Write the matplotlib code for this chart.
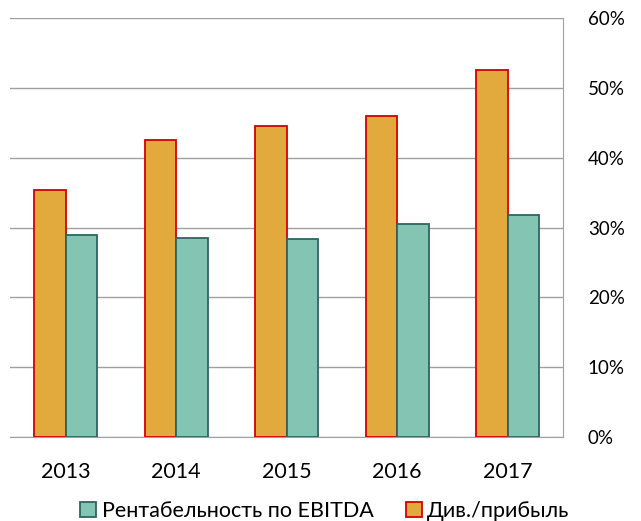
import matplotlib.pyplot as plt
import numpy as np

plt.rcParams['font.family'] = ['Lato', 'DejaVu Sans']

# Donnees
years = ['2013', '2014', '2015', '2016', '2017']
div_profit = [35.4, 42.5, 44.6, 46.0, 52.6]
ebitda_margin = [28.9, 28.5, 28.4, 30.5, 31.8]
yticks = [0, 10, 20, 30, 40, 50, 60]

fig = plt.figure(figsize=(6.41, 5.21), dpi=100)
ax = fig.add_axes([0.016, 0.161, 0.862, 0.804])

x = np.arange(len(years))
w = 0.285
ax.bar(x - w/2, div_profit, w, color='#E2AA3C', edgecolor='#D40000', linewidth=1.3,
       label='Див./прибыль', zorder=3)
ax.bar(x + w/2, ebitda_margin, w, color='#83C4B3', edgecolor='#2E6462', linewidth=1.3,
       label='Рентабельность по EBITDA', zorder=3)

ax.set_xlim(-0.5, len(years) - 0.5)
ax.set_ylim(0, 60)
ax.set_xticks(x)
ax.set_xticklabels(years, fontsize=15.5)
ax.set_yticks(yticks)
ax.set_yticklabels([f'{v}%' for v in yticks], fontsize=13.5)
ax.yaxis.tick_right()
ax.tick_params(length=0)
ax.tick_params(axis='y', pad=18)
ax.tick_params(axis='x', pad=18)
ax.grid(axis='y', color='#A0A0A0', linewidth=1, zorder=0)
for s in ['top', 'left']:
    ax.spines[s].set_visible(False)
ax.spines['right'].set_color('#A0A0A0')
ax.spines['bottom'].set_color('#A0A0A0')

h, l = ax.get_legend_handles_labels()
fig.legend(h[::-1], l[::-1], loc='lower center', bbox_to_anchor=(0.507, -0.037), ncol=2,
           frameon=False, fontsize=15.5, handlelength=0.75, handleheight=0.75,
           handletextpad=0.25, columnspacing=1.5)

plt.savefig('out.png')
